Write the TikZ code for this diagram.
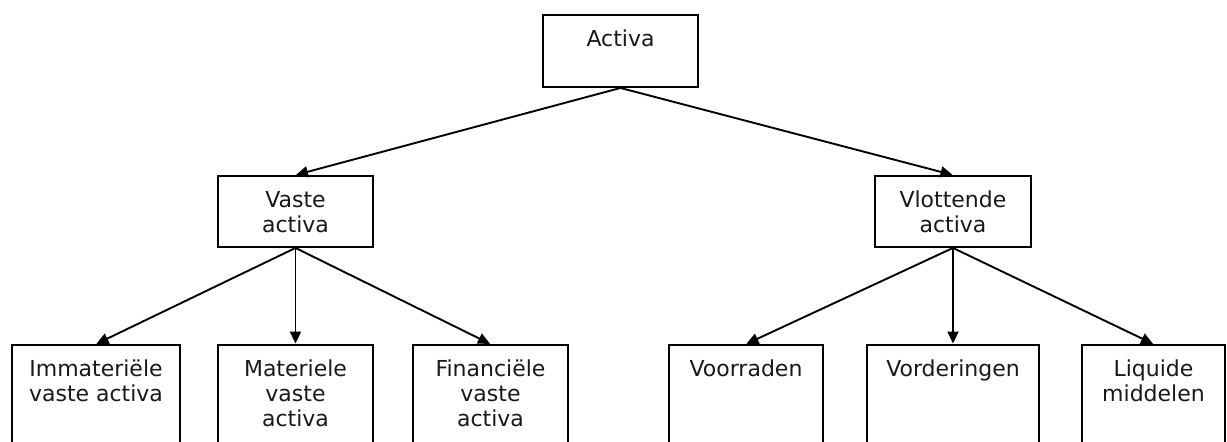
\documentclass[tikz,border=0pt]{standalone}
\usepackage{fontspec}
\setmainfont{DejaVu Sans}
\usetikzlibrary{arrows.meta}
\begin{document}
\begin{tikzpicture}[x=1pt,y=-1pt,
  box/.style={draw=black,line width=1.9pt,fill=white,inner sep=0pt,rectangle},
  lbl/.style={inner sep=0pt,anchor=north,align=center,text=black!90,
    font=\fontsize{22}{25}\selectfont},
  conn/.style={line width=1.9pt,-{Triangle[length=12pt,width=11pt]},shorten >=0.5pt}]
\useasboundingbox (0,0) rectangle (1227,442);
\clip (0,0) rectangle (1227,442);
% boxes
\node[box,minimum width=155pt,minimum height=72pt] (a) at (620.5,51) {};
\node[box,minimum width=155pt,minimum height=71pt] (v) at (295.5,211.5) {};
\node[box,minimum width=156pt,minimum height=71pt] (w) at (953,211.5) {};
\node[box,minimum width=168pt,minimum height=125pt] (b1) at (96,407.5) {};
\node[box,minimum width=155pt,minimum height=125pt] (b2) at (295.5,407.5) {};
\node[box,minimum width=155pt,minimum height=125pt] (b3) at (490.5,407.5) {};
\node[box,minimum width=154pt,minimum height=125pt] (b4) at (746,407.5) {};
\node[box,minimum width=172pt,minimum height=125pt] (b5) at (953,407.5) {};
\node[box,minimum width=143pt,minimum height=125pt] (b6) at (1153.5,407.5) {};
% labels
\node[lbl] (at) at ([yshift=-16pt]a.north) {Activa};
\node[lbl] (vt) at ([yshift=-16pt]v.north) {Vaste\\activa};
\node[lbl] (wt) at ([yshift=-16pt]w.north) {Vlottende\\activa};
\node[lbl] (b1t) at ([yshift=-16pt]b1.north) {Immateriële\\vaste activa};
\node[lbl] (b2t) at ([yshift=-16pt]b2.north) {Materiele\\vaste\\activa};
\node[lbl] (b3t) at ([yshift=-16pt]b3.north) {Financiële\\vaste\\activa};
\node[lbl] (b4t) at ([yshift=-16pt]b4.north) {Voorraden};
\node[lbl] (b5t) at ([yshift=-16pt]b5.north) {Vorderingen};
\node[lbl] (b6t) at ([yshift=-16pt]b6.north) {Liquide\\middelen};
% connectors
\draw[conn] (a.south) -- (v.north);
\draw[conn] (a.south) -- (w.north);
\draw[conn] (v.south) -- (b1.north);
\draw[conn] (v.south) -- (b2.north);
\draw[conn] (v.south) -- (b3.north);
\draw[conn] (w.south) -- (b4.north);
\draw[conn] (w.south) -- (b5.north);
\draw[conn] (w.south) -- (b6.north);
\end{tikzpicture}
\end{document}
